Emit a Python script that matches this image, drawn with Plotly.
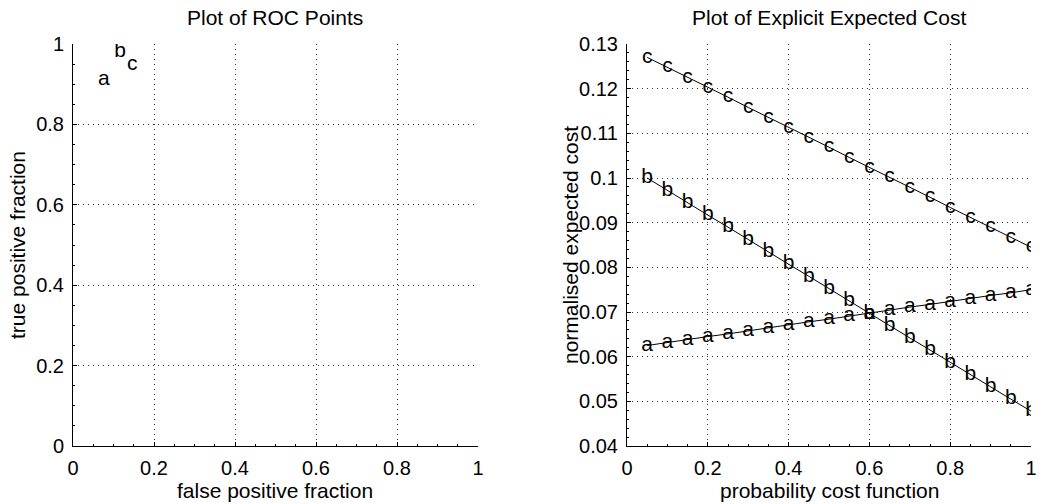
import plotly.graph_objects as go

# ROC points
roc_labels = ["a", "b", "c"]
roc_fpf = [0.076, 0.116, 0.146]
roc_tpf = [0.910, 0.980, 0.948]

# Expected cost lines
pc = [0.05, 0.10, 0.15, 0.20, 0.25, 0.30, 0.35, 0.40, 0.45, 0.50,
      0.55, 0.60, 0.65, 0.70, 0.75, 0.80, 0.85, 0.90, 0.95, 1.00]
cost_a = [0.0625, 0.0632, 0.0638, 0.0645, 0.0651, 0.0658, 0.0664, 0.0671, 0.0678, 0.0684,
          0.0691, 0.0697, 0.0704, 0.0711, 0.0717, 0.0724, 0.0730, 0.0737, 0.0743, 0.0750]
cost_b = [0.1000, 0.0972, 0.0945, 0.0917, 0.0890, 0.0862, 0.0835, 0.0807, 0.0780, 0.0752,
          0.0725, 0.0697, 0.0670, 0.0642, 0.0615, 0.0587, 0.0560, 0.0532, 0.0505, 0.0478]
cost_c = [0.1270, 0.1248, 0.1225, 0.1203, 0.1181, 0.1158, 0.1136, 0.1113, 0.1091, 0.1069,
          0.1046, 0.1024, 0.1002, 0.0979, 0.0957, 0.0934, 0.0912, 0.0890, 0.0867, 0.0845]
series = [("a", cost_a), ("b", cost_b), ("c", cost_c)]

FONT = "Liberation Sans, Arial, Helvetica, sans-serif"
fs = 20      # tick labels
ls = 21      # axis labels
ts = 21      # titles
mk = 21      # letter markers

fig = go.Figure()

fig.add_trace(go.Scatter(x=roc_fpf, y=roc_tpf, mode="text", text=roc_labels,
                         textposition="middle center",
                         textfont=dict(family=FONT, size=mk, color="black"),
                         xaxis="x", yaxis="y", showlegend=False, hoverinfo="skip"))

for name, vals in series:
    fig.add_trace(go.Scatter(x=pc, y=vals, mode="lines+text", text=[name] * len(pc),
                             textposition="middle center",
                             textfont=dict(family=FONT, size=mk, color="black"),
                             line=dict(color="black", width=1),
                             xaxis="x2", yaxis="y2", showlegend=False, hoverinfo="skip"))

ydom = [(504 - 446) / 504, (504 - 44) / 504]
common = dict(showline=True, linecolor="black", linewidth=1, mirror=False,
              showgrid=True, gridcolor="#333333", gridwidth=1, griddash="1px,4px",
              zeroline=False, ticks="inside", ticklen=4, tickcolor="black",
              ticklabelstandoff=4, automargin=False,
              tickfont=dict(family=FONT, size=fs, color="black"))
minor = dict(ticks="inside", ticklen=2, tickcolor="black", showgrid=False)

fig.update_layout(
    template="none",
    width=1042, height=504,
    margin=dict(l=0, r=0, t=0, b=0, pad=0, autoexpand=False),
    paper_bgcolor="white", plot_bgcolor="white",
    font=dict(family=FONT, size=fs, color="black"),
    xaxis=dict(domain=[73 / 1042, 478 / 1042], range=[0, 1], tickvals=[0, 0.2, 0.4, 0.6, 0.8, 1],
               ticktext=["0", "0.2", "0.4", "0.6", "0.8", "1"], anchor="y",
               minor=dict(dtick=0.05, **minor), **common),
    yaxis=dict(domain=ydom, range=[0, 1], tickvals=[0, 0.2, 0.4, 0.6, 0.8, 1],
               ticktext=["0", "0.2", "0.4", "0.6", "0.8", "1"], anchor="x",
               minor=dict(dtick=0.05, **minor), **common),
    xaxis2=dict(domain=[627 / 1042, 1031 / 1042], range=[0, 1], tickvals=[0, 0.2, 0.4, 0.6, 0.8, 1],
                ticktext=["0", "0.2", "0.4", "0.6", "0.8", "1"], anchor="y2",
                minor=dict(dtick=0.05, **minor), **common),
    yaxis2=dict(domain=ydom, range=[0.04, 0.13],
                tickvals=[0.04, 0.05, 0.06, 0.07, 0.08, 0.09, 0.10, 0.11, 0.12, 0.13],
                ticktext=["0.04", "0.05", "0.06", "0.07", "0.08", "0.09", "0.1", "0.11", "0.12", "0.13"],
                anchor="x2",
                minor=dict(dtick=0.002, **minor), **common),
    annotations=[
        dict(text="Plot of ROC Points", x=275 / 1042, y=1 - 18 / 504, xref="paper", yref="paper",
             xanchor="center", yanchor="middle",
             showarrow=False, font=dict(family=FONT, size=ts, color="black")),
        dict(text="Plot of Explicit Expected Cost", x=829 / 1042, y=1 - 18 / 504, xref="paper", yref="paper",
             xanchor="center", yanchor="middle",
             showarrow=False, font=dict(family=FONT, size=ts, color="black")),
        dict(text="false positive fraction", x=275 / 1042, y=1 - 490 / 504, xref="paper", yref="paper",
             xanchor="center", yanchor="middle",
             showarrow=False, font=dict(family=FONT, size=ls, color="black")),
        dict(text="probability cost function", x=829 / 1042, y=1 - 490 / 504, xref="paper", yref="paper",
             xanchor="center", yanchor="middle",
             showarrow=False, font=dict(family=FONT, size=ls, color="black")),
        dict(text="true positive fraction", x=17 / 1042, y=1 - 245 / 504, xref="paper", yref="paper",
             xanchor="center", yanchor="middle",
             showarrow=False, textangle=-90, font=dict(family=FONT, size=ls, color="black")),
        dict(text="normalised expected cost", x=570 / 1042, y=1 - 245 / 504, xref="paper", yref="paper",
             xanchor="center", yanchor="middle",
             showarrow=False, textangle=-90, font=dict(family=FONT, size=ls, color="black")),
    ],
)

fig.write_html("out.html")
